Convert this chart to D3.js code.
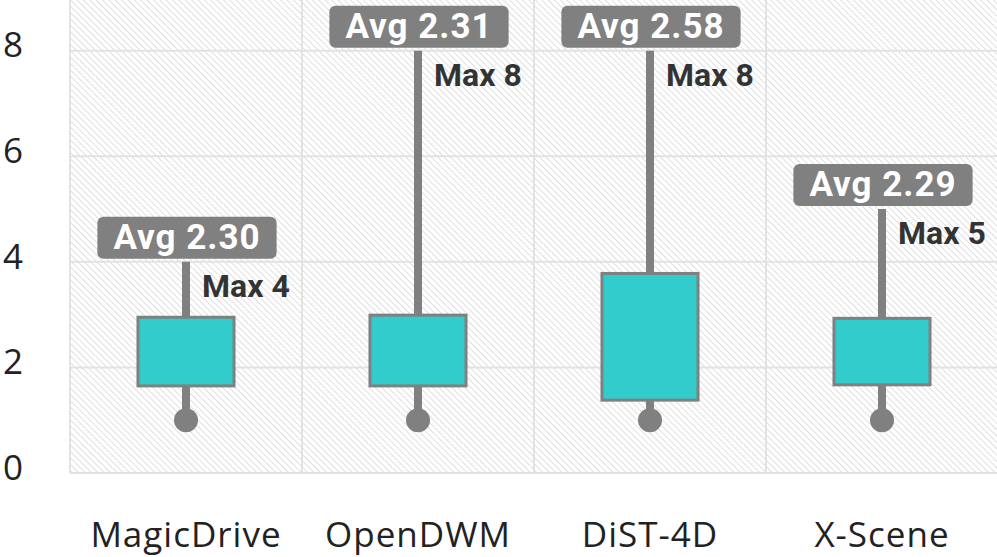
<!DOCTYPE html>
<html><head><meta charset="utf-8">
<script src="https://cdn.jsdelivr.net/npm/d3@7"></script>
<style>body{margin:0;background:#fff}svg{display:block}</style>
</head><body>
<svg id="c" width="997" height="557"></svg>
<script>
const categories = ["MagicDrive", "OpenDWM", "DiST-4D", "X-Scene"];
const mins = [1, 1, 1, 1];
const q1s = [1.65, 1.65, 1.38, 1.67];
const q3s = [2.95, 2.99, 3.78, 2.93];
const maxs = [4, 8, 8, 5];
const avgs = [2.30, 2.31, 2.58, 2.29];
const yTicks = [0, 2, 4, 6, 8];

(function () {
const pLeft = 70, pRight = 998, pTop = 0, pBottom = 473;
const svg = d3.select("#c");
const x = d3.scaleBand().domain(categories).range([pLeft, pRight]).padding(0);
const y = d3.scaleLinear().domain([0, 8.96]).range([pBottom, pTop]);

const defs = svg.append("defs");
const pat = defs.append("pattern").attr("id", "hatch").attr("patternUnits", "userSpaceOnUse")
  .attr("width", 4.5).attr("height", 4.5).attr("patternTransform", "rotate(-45)");
pat.append("rect").attr("width", 4.5).attr("height", 4.5).attr("fill", "#fff");
pat.append("line").attr("x1", 0).attr("y1", 0).attr("x2", 0).attr("y2", 4.5)
  .attr("stroke", "#dcdcdc").attr("stroke-width", 1.8);

svg.append("rect").attr("x", pLeft).attr("y", pTop).attr("width", pRight - pLeft).attr("height", pBottom - pTop)
  .attr("fill", "url(#hatch)");

// grid
svg.append("g").selectAll("line").data(yTicks).join("line")
  .attr("x1", pLeft).attr("x2", pRight).attr("y1", d => y(d)).attr("y2", d => y(d))
  .attr("stroke", "#e2e2e2").attr("stroke-width", 2);
const vlines = categories.map(c => x(c)).concat([pRight]);
svg.append("g").selectAll("line").data(vlines).join("line")
  .attr("x1", d => d).attr("x2", d => d).attr("y1", pTop).attr("y2", pBottom)
  .attr("stroke", "#e2e2e2").attr("stroke-width", 2);

// axes
const ya = svg.append("g").attr("transform", `translate(${pLeft},0)`)
  .call(d3.axisLeft(y).tickValues(yTicks).tickSize(0).tickPadding(47).tickFormat(d3.format("d")));
ya.select(".domain").remove();
ya.selectAll("text").attr("font-family", "Open Sans").attr("font-size", 35).attr("fill", "#222").attr("dy", "0.18em");

const xa = svg.append("g").attr("transform", `translate(0,${pBottom})`)
  .call(d3.axisBottom(x).tickSize(0).tickPadding(49));
xa.select(".domain").remove();
xa.selectAll("text").attr("font-family", "Open Sans").attr("font-size", 35).attr("fill", "#222")
  .attr("letter-spacing", "1px");

const gray = "#808080";
const bw = x.bandwidth() * 0.414;
const g = svg.append("g");
categories.forEach((c, i) => {
  const cx = x(c) + x.bandwidth() / 2;
  g.append("line").attr("x1", cx).attr("x2", cx).attr("y1", y(mins[i])).attr("y2", y(maxs[i]))
    .attr("stroke", gray).attr("stroke-width", 8);
  g.append("circle").attr("cx", cx).attr("cy", y(mins[i])).attr("r", 12).attr("fill", gray);
  g.append("rect").attr("x", cx - bw / 2).attr("y", y(q3s[i])).attr("width", bw)
    .attr("height", y(q1s[i]) - y(q3s[i])).attr("fill", "#33cccc").attr("stroke", gray).attr("stroke-width", 3);
  const lb = g.append("g");
  const boxBottom = y(maxs[i]) - 3;
  const r = lb.append("rect").attr("fill", gray).attr("rx", 6).attr("ry", 6);
  const t = lb.append("text").attr("x", cx + 1).attr("y", boxBottom - 10).attr("text-anchor", "middle")
    .attr("font-family", "Roboto").attr("font-weight", "bold").attr("font-size", 35).attr("fill", "#fff")
    .attr("letter-spacing", "1px")
    .text("Avg " + avgs[i].toFixed(2));
  const tw = t.node().getComputedTextLength();
  r.attr("x", cx + 1 - (tw + 32) / 2).attr("y", boxBottom - 42).attr("width", tw + 32).attr("height", 42);
  g.append("text").attr("x", cx + 16).attr("y", y(maxs[i]) + 35)
    .attr("font-family", "Roboto").attr("font-weight", "bold").attr("font-size", 32).attr("fill", "#333")
    .text("Max " + maxs[i]);
});
})();
</script>
</body></html>
